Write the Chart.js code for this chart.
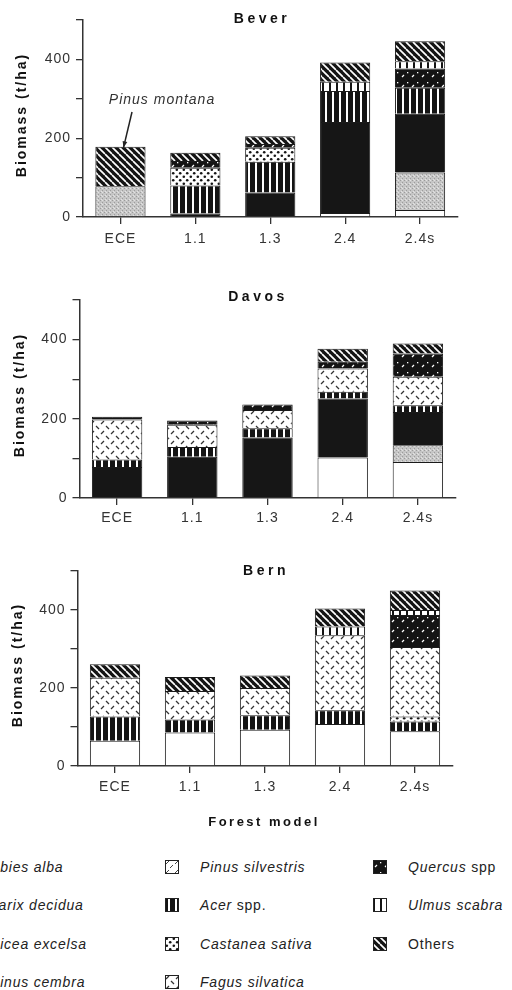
<!DOCTYPE html>
<html>
<head>
<meta charset="utf-8">
<style>
  html, body { margin: 0; padding: 0; background: #fff; }
  body { width: 512px; height: 990px; position: relative; overflow: hidden; font-family: "Liberation Sans", Arial, sans-serif; }
  .panel { position: absolute; left: 0; }
  .legend-item { position: absolute; width: 200px; height: 14px; }
  .legend-item canvas { position: absolute; left: 0; top: 0; }
  .legend-item span { position: absolute; left: 35px; top: -2px; white-space: nowrap; font-size: 14px; letter-spacing: 0.8px; color: #222; line-height: 18px; }
</style>
</head>
<body>
<canvas id="bever" class="panel" width="512" height="255" style="top:0"></canvas>
<canvas id="davos" class="panel" width="512" height="265" style="top:270px"></canvas>
<canvas id="bern" class="panel" width="512" height="290" style="top:545px"></canvas>
<div id="legend"></div>

<script src="https://cdn.jsdelivr.net/npm/chart.js"></script>
<script>
  const models = ['ECE', '1.1', '1.3', '2.4', '2.4s'];
  const species = ['Abies alba', 'Larix decidua', 'Picea excelsa', 'Pinus cembra', 'Pinus silvestris',
                   'Acer spp.', 'Castanea sativa', 'Fagus silvatica', 'Quercus spp', 'Ulmus scabra', 'Others'];
  const yTicks = [0, 200, 400];

  // Bever, biomass t/ha per species, one value per forest model
  const beverAbies    = [0, 0, 0, 10, 18];
  const beverLarix    = [78, 0, 0, 0, 95];
  const beverPicea    = [0, 9, 62, 231, 149];
  const beverCembra   = [0, 0, 0, 0, 0];
  const beverSilv     = [0, 0, 0, 0, 0];
  const beverAcer     = [0, 71, 78, 79, 66];
  const beverCastanea = [0, 45, 36, 0, 0];
  const beverFagus    = [0, 0, 0, 0, 0];
  const beverQuercus  = [0, 17, 9, 0, 49];
  const beverUlmus    = [0, 0, 0, 23, 18];
  const beverOthers   = [100, 21, 20, 49, 51];   // ECE: Pinus montana

  // Davos
  const davosAbies    = [0, 0, 0, 102, 91];
  const davosLarix    = [0, 0, 0, 0, 42];
  const davosPicea    = [78, 104, 153, 149, 84];
  const davosCembra   = [0, 0, 0, 0, 0];
  const davosSilv     = [0, 0, 0, 0, 0];
  const davosAcer     = [19, 25, 23, 17, 17];
  const davosCastanea = [0, 0, 0, 0, 0];
  const davosFagus    = [101, 56, 46, 59, 72];
  const davosQuercus  = [7, 11, 14, 17, 59];
  const davosUlmus    = [0, 0, 0, 0, 0];
  const davosOthers   = [0, 0, 0, 33, 25];

  // Bern
  const bernAbies    = [65, 86, 93, 108, 89];
  const bernLarix    = [0, 0, 0, 0, 0];
  const bernPicea    = [0, 0, 0, 0, 0];
  const bernCembra   = [0, 0, 0, 0, 0];
  const bernSilv     = [0, 0, 0, 0, 0];
  const bernAcer     = [62, 33, 37, 35, 25];
  const bernCastanea = [0, 0, 0, 0, 13];
  const bernFagus    = [99, 73, 70, 192, 178];
  const bernQuercus  = [0, 0, 0, 0, 82];
  const bernUlmus    = [0, 0, 0, 23, 13];
  const bernOthers   = [35, 36, 32, 46, 50];

  const beverRows = [beverAbies, beverLarix, beverPicea, beverCembra, beverSilv, beverAcer,
                     beverCastanea, beverFagus, beverQuercus, beverUlmus, beverOthers];
  const davosRows = [davosAbies, davosLarix, davosPicea, davosCembra, davosSilv, davosAcer,
                     davosCastanea, davosFagus, davosQuercus, davosUlmus, davosOthers];
  const bernRows = [bernAbies, bernLarix, bernPicea, bernCembra, bernSilv, bernAcer,
                    bernCastanea, bernFagus, bernQuercus, bernUlmus, bernOthers];

  const FONT = '"Liberation Sans", Arial, Helvetica, sans-serif';
  Chart.defaults.font.family = FONT;

  // small hatch tiles, one per species
  function tile(name) {
    const c = document.createElement('canvas');
    const g = c.getContext('2d');
    const line = (x1, y1, x2, y2) => { g.beginPath(); g.moveTo(x1, y1); g.lineTo(x2, y2); g.stroke(); };
    if (name === 'Larix decidua') {
      c.width = 4; c.height = 4;
      g.fillStyle = '#c6c6c6'; g.fillRect(0, 0, 4, 4);
      g.fillStyle = '#9c9c9c'; g.fillRect(0, 0, 1, 1); g.fillRect(2, 2, 1, 1);
      g.fillStyle = '#e2e2e2'; g.fillRect(2, 0, 1, 1); g.fillRect(1, 3, 1, 1);
    } else if (name === 'Pinus cembra') {
      c.width = 6; c.height = 6;
      g.fillStyle = '#fff'; g.fillRect(0, 0, 6, 6);
      g.fillStyle = '#222'; g.fillRect(1, 1, 1, 1); g.fillRect(4, 4, 1, 1);
    } else if (name === 'Pinus silvestris') {
      c.width = 9; c.height = 9;
      g.fillStyle = '#fff'; g.fillRect(0, 0, 9, 9);
      g.strokeStyle = '#444'; g.lineWidth = 1;
      line(1, 4, 4, 1); line(5, 8, 8, 5);
    } else if (name === 'Acer spp.') {
      c.width = 7; c.height = 6;
      g.fillStyle = '#141414'; g.fillRect(0, 0, 7, 6);
      g.fillStyle = '#fff'; g.fillRect(3, 0, 2, 6);
    } else if (name === 'Castanea sativa') {
      c.width = 7; c.height = 7;
      g.fillStyle = '#fff'; g.fillRect(0, 0, 7, 7);
      g.fillStyle = '#151515';
      g.beginPath(); g.arc(1.8, 1.8, 1.3, 0, Math.PI * 2); g.fill();
      g.beginPath(); g.arc(5.2, 5.2, 1.3, 0, Math.PI * 2); g.fill();
    } else if (name === 'Fagus silvatica') {
      c.width = 10; c.height = 10;
      g.fillStyle = '#fff'; g.fillRect(0, 0, 10, 10);
      g.strokeStyle = '#333'; g.lineWidth = 1.2;
      line(1, 4, 4, 1); line(6, 6, 9, 9);
    } else if (name === 'Quercus spp') {
      c.width = 10; c.height = 10;
      g.fillStyle = '#141414'; g.fillRect(0, 0, 10, 10);
      g.strokeStyle = '#fff'; g.lineWidth = 1.2;
      line(2, 7, 4, 5);
      g.fillStyle = '#fff'; g.fillRect(7, 2, 1.3, 1.3);
    } else if (name === 'Ulmus scabra') {
      c.width = 7; c.height = 6;
      g.fillStyle = '#fff'; g.fillRect(0, 0, 7, 6);
      g.fillStyle = '#141414'; g.fillRect(0, 0, 2, 6);
    } else {
      // Others: dense diagonal hatch
      c.width = 7; c.height = 7;
      g.fillStyle = '#141414'; g.fillRect(0, 0, 7, 7);
      g.strokeStyle = '#fff'; g.lineWidth = 1.7;
      for (const i of [0, 7, 14]) line(i - 7, 0, i, 7);
    }
    return c;
  }

  function fillFor(ctx, name) {
    if (name === 'Abies alba') return '#ffffff';
    if (name === 'Picea excelsa') return '#161616';
    return ctx.createPattern(tile(name), 'repeat');
  }

  function textPlugin(items, extra) {
    return {
      id: 'texts',
      beforeDraw(chart) { chart.ctx.letterSpacing = '1px'; },
      afterDraw(chart) {
        const ctx = chart.ctx;
        items.forEach(t => {
          ctx.save();
          ctx.font = t.font;
          ctx.letterSpacing = t.spacing || '0px';
          ctx.fillStyle = '#111';
          ctx.textAlign = 'center';
          ctx.textBaseline = 'middle';
          ctx.translate(t.x, t.y);
          if (t.rotate) ctx.rotate(-Math.PI / 2);
          ctx.fillText(t.text, 0, 0);
          ctx.restore();
        });
        if (extra) extra(chart);
      }
    };
  }

  function makeChart(id, rows, area, texts, extra) {
    const canvas = document.getElementById(id);
    const ctx = canvas.getContext('2d');
    const datasets = species.map((name, i) => ({
      label: name,
      data: rows[i],
      backgroundColor: fillFor(ctx, name),
      borderColor: '#1a1a1a',
      borderWidth: c => c.raw ? 1 : 0,
      barPercentage: 0.67,
      categoryPercentage: 1
    }));
    return new Chart(canvas, {
      type: 'bar',
      data: { labels: models, datasets },
      options: {
        responsive: false,
        animation: false,
        events: [],
        layout: { padding: { top: area.top, right: canvas.width - area.right, left: 0, bottom: 0 } },
        plugins: { legend: { display: false }, tooltip: { enabled: false } },
        scales: {
          x: {
            stacked: true,
            grid: { offset: false, drawOnChartArea: false, tickLength: 7, color: '#333', lineWidth: 1.3 },
            border: { color: '#333', width: 1.5 },
            ticks: { color: '#333', font: { size: 14 }, padding: area.labelPad },
            afterFit: s => { s.height = canvas.height - area.bottom; }
          },
          y: {
            stacked: true,
            min: 0,
            max: 500,
            ticks: { stepSize: 100, callback: v => yTicks.includes(v) ? String(v) : '', color: '#333', font: { size: 14 }, padding: 5 },
            grid: { drawOnChartArea: false, tickLength: 7, color: '#333', lineWidth: 1.3 },
            border: { color: '#333', width: 1.5 },
            afterFit: s => { s.width = area.left; }
          }
        }
      },
      plugins: [textPlugin(texts, extra)]
    });
  }

  const titleFont = 'bold 14px ' + FONT;

  // Pinus montana callout on the Bever ECE bar
  function montana(chart) {
    const ctx = chart.ctx;
    const total = chart.data.datasets.reduce((s, d) => s + d.data[0], 0);
    const tx = chart.scales.x.getPixelForValue(0) + 3;
    const ty = chart.scales.y.getPixelForValue(total) + 1;
    ctx.save();
    ctx.letterSpacing = '1px';
    ctx.font = 'italic 14px ' + FONT;
    ctx.fillStyle = '#333';
    ctx.textAlign = 'center';
    ctx.textBaseline = 'middle';
    ctx.fillText('Pinus montana', 162, 100);
    const sx = 132, sy = 112;
    ctx.strokeStyle = '#222';
    ctx.lineWidth = 1.5;
    ctx.beginPath(); ctx.moveTo(sx, sy); ctx.lineTo(tx, ty); ctx.stroke();
    const a = Math.atan2(ty - sy, tx - sx);
    ctx.fillStyle = '#222';
    ctx.beginPath();
    ctx.moveTo(tx, ty);
    ctx.lineTo(tx - 7 * Math.cos(a - 0.35), ty - 7 * Math.sin(a - 0.35));
    ctx.lineTo(tx - 7 * Math.cos(a + 0.35), ty - 7 * Math.sin(a + 0.35));
    ctx.closePath(); ctx.fill();
    ctx.restore();
  }

  makeChart('bever', beverRows, { top: 20, left: 83, right: 457.5, bottom: 217, labelPad: 7 }, [
    { text: 'Bever', x: 262, y: 19, font: titleFont, spacing: '3.5px' },
    { text: 'Biomass (t/ha)', x: 22, y: 115, rotate: true, font: titleFont, spacing: '2px' }
  ], montana);

  makeChart('davos', davosRows, { top: 30, left: 79.5, right: 455.5, bottom: 228, labelPad: 5 }, [
    { text: 'Davos', x: 258, y: 27, font: titleFont, spacing: '3.5px' },
    { text: 'Biomass (t/ha)', x: 20, y: 125, rotate: true, font: titleFont, spacing: '2px' }
  ]);

  makeChart('bern', bernRows, { top: 26, left: 77.5, right: 452.5, bottom: 221, labelPad: 6 }, [
    { text: 'Bern', x: 266, y: 26, font: titleFont, spacing: '3.5px' },
    { text: 'Biomass (t/ha)', x: 18, y: 120, rotate: true, font: titleFont, spacing: '2px' },
    { text: 'Forest model', x: 264, y: 277, font: 'bold 13px ' + FONT, spacing: '2.5px' }
  ]);

  // legend: 3 columns of 4 rows, first column runs off the left edge
  const legendCols = [-45, 165, 373];
  const legendRows = [860, 898, 937, 975];
  const legend = document.getElementById('legend');
  species.forEach((name, i) => {
    const item = document.createElement('div');
    item.className = 'legend-item';
    item.style.left = legendCols[Math.floor(i / 4)] + 'px';
    item.style.top = legendRows[i % 4] + 'px';
    const sw = document.createElement('canvas');
    sw.width = 14; sw.height = 14;
    const g = sw.getContext('2d');
    g.fillStyle = fillFor(g, name);
    g.fillRect(0, 0, 14, 14);
    g.strokeStyle = '#222';
    g.lineWidth = 1;
    g.strokeRect(0.5, 0.5, 13, 13);
    const label = document.createElement('span');
    label.innerHTML = name.split(' ').map(w => (w.startsWith('spp') || w === 'Others') ? w : '<i>' + w + '</i>').join(' ');
    item.appendChild(sw);
    item.appendChild(label);
    legend.appendChild(item);
  });
</script>
</body>
</html>
